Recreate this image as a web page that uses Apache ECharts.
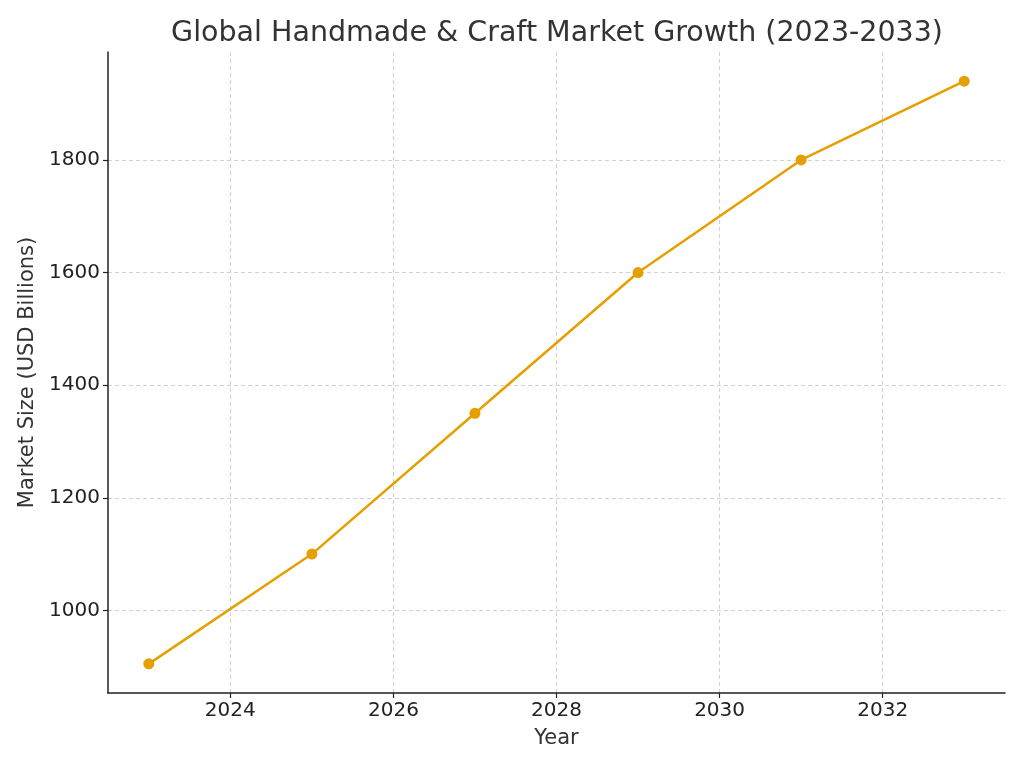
<!DOCTYPE html>
<html>
<head>
<meta charset="utf-8">
<script src="https://cdn.jsdelivr.net/npm/echarts@6/dist/echarts.min.js"></script>
<style>
  html, body { margin: 0; padding: 0; background: #fff; }
  #chart { width: 1024px; height: 768px; }
</style>
</head>
<body>
<div id="chart"></div>
<script>
// data
const years = [2023, 2025, 2027, 2029, 2031, 2033];
const marketSize = [905, 1100, 1350, 1600, 1800, 1940];
const xTicks = [2024, 2026, 2028, 2030, 2032];
const yTicks = [1000, 1200, 1400, 1600, 1800];

const chart = echarts.init(document.getElementById('chart'));
const font = 'DejaVu Sans';

const option = {
  animation: false,
  backgroundColor: '#fff',
  title: {
    text: 'Global Handmade & Craft Market Growth (2023-2033)',
    left: 552,
    textAlign: 'center',
    top: 14,
    textStyle: { fontFamily: font, fontSize: 28.5, fontWeight: 'normal', color: '#333' }
  },
  grid: { left: 108, right: 19, top: 52, bottom: 75 },
  xAxis: {
    type: 'value',
    min: 2022.5,
    max: 2033.5,
    name: 'Year',
    nameLocation: 'middle',
    nameGap: 35,
    nameTextStyle: { fontFamily: font, fontSize: 21, color: '#333' },
    axisLine: { lineStyle: { color: '#222', width: 1.5 } },
    axisTick: { show: true, customValues: xTicks, length: 5, lineStyle: { color: '#222', width: 1.2 } },
    axisLabel: { customValues: xTicks, formatter: v => String(v), fontFamily: font, fontSize: 20, color: '#222', margin: 8 },
    splitLine: { show: true, lineStyle: { color: '#cccccc', type: [4, 3], width: 0.9 } }
  },
  yAxis: {
    type: 'value',
    min: 853.25,
    max: 1991.75,
    name: 'Market Size (USD Billions)',
    nameLocation: 'middle',
    nameGap: 69,
    nameTextStyle: { fontFamily: font, fontSize: 21, color: '#333' },
    axisLine: { show: true, lineStyle: { color: '#222', width: 1.5 } },
    axisTick: { show: true, customValues: yTicks, length: 5, lineStyle: { color: '#222', width: 1.2 } },
    axisLabel: { customValues: yTicks, formatter: v => String(v), fontFamily: font, fontSize: 20, color: '#222', margin: 8 },
    splitLine: { show: true, lineStyle: { color: '#cccccc', type: [4, 3], width: 0.9 } }
  },
  series: [{
    type: 'line',
    data: years.map((y, i) => [y, marketSize[i]]),
    symbol: 'circle',
    symbolSize: 11,
    lineStyle: { color: '#E69F00', width: 2.5 },
    itemStyle: { color: '#E69F00' }
  }]
};
chart.setOption(option);
</script>
</body>
</html>
